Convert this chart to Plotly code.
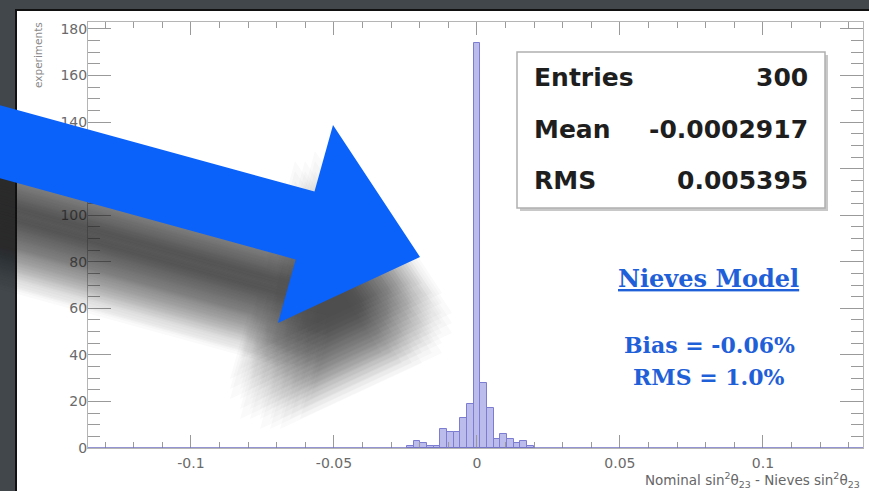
import plotly.graph_objects as go

# ---------------- data ----------------
bin_width = 0.00233
counts = [1, 3, 2, 1, 1, 8, 7, 7, 13, 19, 174, 28, 17, 4, 6, 4, 2, 3, 1]
first_bin_index = -10
bin_centers = [(first_bin_index + i) * bin_width for i in range(len(counts))]

x_range = [-0.136, 0.135]
y_range = [0, 183]
x_tickvals = [-0.1, -0.05, 0, 0.05, 0.1]
x_ticktext = ["-0.1", "-0.05", "0", "0.05", "0.1"]
y_tickvals = [0, 20, 40, 60, 80, 100, 120, 140, 160, 180]

stats_labels = ["Entries", "Mean", "RMS"]
stats_values = ["300", "-0.0002917", "0.005395"]
model_title = "Nieves Model"
model_lines = ["Bias = -0.06%", "RMS = 1.0%"]
x_title = "Nominal sin<sup>2</sup>θ<sub>23</sub> - Nieves sin<sup>2</sup>θ<sub>23</sub>"
y_title = "experiments"

# ---------------- geometry helpers (pixel -> paper) ----------------
W, H = 869, 491
L, R, T, B = 88, 6, 22, 43
PW = W - L - R
PH = H - T - B


def px(x):
    return (x - L) / PW


def py(y):
    return (H - B - y) / PH


def path(points):
    return "M " + " L ".join(f"{px(a):.5f},{py(b):.5f}" for a, b in points) + " Z"


fig = go.Figure()

fig.add_trace(go.Bar(
    x=bin_centers, y=counts, width=bin_width,
    marker=dict(color="#bcbcec", line=dict(color="#7c7cd0", width=1)),
    showlegend=False, hoverinfo="skip",
))

shapes = []
# white chart panel with black border
shapes.append(dict(type="rect", xref="paper", yref="paper",
                   x0=px(16), x1=px(880), y0=py(500), y1=py(10),
                   fillcolor="white", line=dict(color="#111111", width=2),
                   layer="below"))
# histogram baseline (outline along zero)
shapes.append(dict(type="line", xref="paper", yref="y", x0=0, x1=1, y0=0, y1=0,
                   line=dict(color="#7070c4", width=1.5), layer="above"))

# stats box with shadow
shapes.append(dict(type="rect", xref="paper", yref="paper",
                   x0=px(520), x1=px(828), y0=py(211), y1=py(55),
                   fillcolor="#c8c8c8", line=dict(width=0), layer="above"))
shapes.append(dict(type="rect", xref="paper", yref="paper",
                   x0=px(517), x1=px(825), y0=py(208), y1=py(52),
                   fillcolor="white", line=dict(color="#b0b0b0", width=1.5), layer="above"))

# big blue arrow with soft (blurred) shadow
arrow = [(-30, 97), (314.5, 191.5), (333, 125), (420, 257), (278, 323),
         (295.7, 259.4), (-30, 170)]
sh_dx, sh_dy = -8, 66
offs = [-40, -30, -20, -10, 0, 10, 20, 30, 40]
for ox in offs:
    for oy in offs:
        if ox * ox + oy * oy > 44 * 44:
            continue
        pts = [(a + sh_dx + ox, b + sh_dy + oy) for a, b in arrow]
        shapes.append(dict(type="path", xref="paper", yref="paper", path=path(pts),
                           fillcolor="rgba(30,30,30,0.023)", line=dict(width=0),
                           layer="above"))
shapes.append(dict(type="path", xref="paper", yref="paper", path=path(arrow),
                   fillcolor="#0a62fb", line=dict(width=0), layer="above"))

annotations = []
row_y = [77, 129, 180]
stat_font = dict(family="DejaVu Sans", size=25, color="#1e1e1e")
for lab, val, yy in zip(stats_labels, stats_values, row_y):
    annotations.append(dict(text="<b>" + lab + "</b>", x=px(532), y=py(yy),
                            xref="paper", yref="paper",
                            xanchor="left", yanchor="middle", showarrow=False,
                            font=stat_font))
    annotations.append(dict(text="<b>" + val + "</b>", x=px(810), y=py(yy),
                            xref="paper", yref="paper",
                            xanchor="right", yanchor="middle", showarrow=False,
                            font=stat_font))

blue_txt = "#1f60d8"
annotations.append(dict(text="<b>" + model_title + "</b>", x=px(708), y=py(278),
                        xref="paper", yref="paper", xanchor="center", yanchor="middle",
                        showarrow=False,
                        font=dict(family="DejaVu Serif", size=24, color=blue_txt,
                                  lineposition="under")))
for txt, yy in zip(model_lines, [345, 377]):
    annotations.append(dict(text="<b>" + txt + "</b>", x=px(709), y=py(yy),
                            xref="paper", yref="paper", xanchor="center", yanchor="middle",
                            showarrow=False,
                            font=dict(family="DejaVu Serif", size=22, color=blue_txt)))

annotations.append(dict(text=x_title, x=px(862), y=py(480), xref="paper", yref="paper",
                        xanchor="right", yanchor="middle", showarrow=False,
                        font=dict(family="DejaVu Sans", size=13.5, color="#666666")))
annotations.append(dict(text=y_title, x=px(38), y=py(20), xref="paper", yref="paper",
                        xanchor="center", yanchor="top", textangle=-90, showarrow=False,
                        font=dict(family="DejaVu Sans", size=10.5, color="#8a8a8a")))

axis_font = dict(family="DejaVu Sans", size=14, color="#6a6a6a")
fig.update_layout(
    width=W, height=H,
    margin=dict(l=L, r=R, t=T, b=B, pad=0),
    paper_bgcolor="#41474a",
    plot_bgcolor="white",
    bargap=0,
    shapes=shapes,
    annotations=annotations,
    xaxis=dict(range=x_range, tickvals=x_tickvals, ticktext=x_ticktext,
               ticks="inside", ticklen=13, tickcolor="#9a9a9a", tickwidth=1,
               minor=dict(dtick=0.01, tick0=0, ticks="inside", ticklen=6,
                          tickcolor="#9a9a9a"),
               showline=True, linecolor="#b5b5b5", linewidth=1, mirror="ticks",
               showgrid=False, zeroline=False, tickfont=axis_font,
               ticklabelstandoff=2),
    yaxis=dict(range=y_range, tickvals=y_tickvals,
               ticks="inside", ticklen=23, tickcolor="#9a9a9a", tickwidth=1,
               minor=dict(dtick=5, tick0=0, ticks="inside", ticklen=12,
                          tickcolor="#9a9a9a"),
               showline=True, linecolor="#b5b5b5", linewidth=1, mirror="ticks",
               showgrid=False, zeroline=False, tickfont=axis_font,
               ticklabelstandoff=-3),
)

fig.write_html("out.html",
               config={"displayModeBar": False},
               post_script="document.body.style.margin='0';"
                           "document.body.style.background='#41474a';")
